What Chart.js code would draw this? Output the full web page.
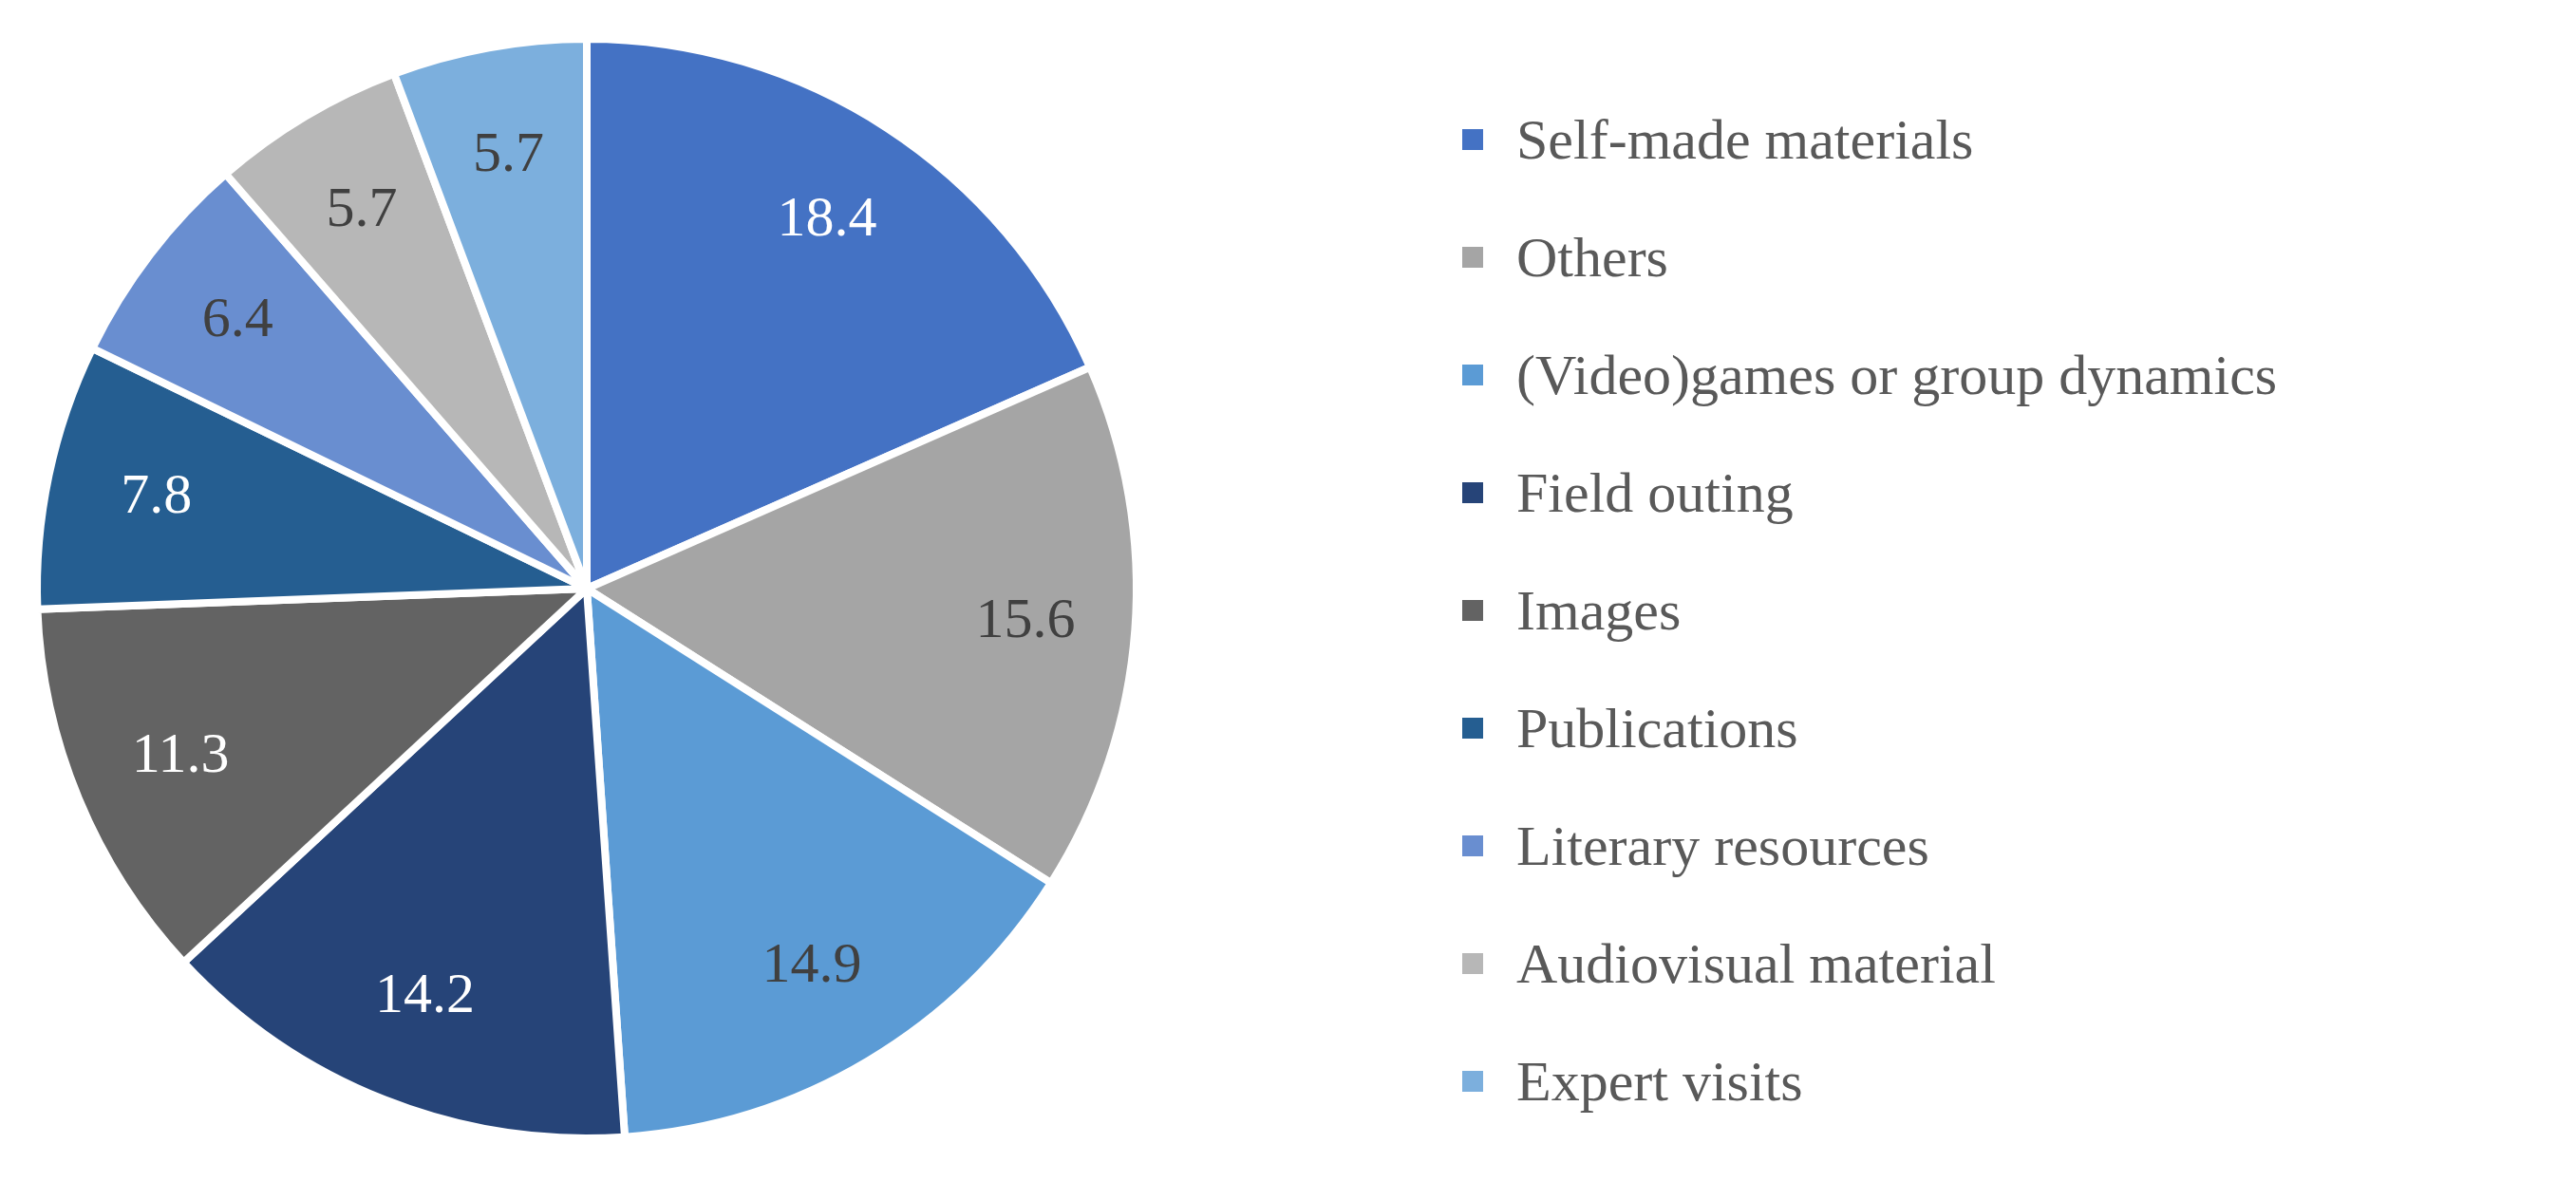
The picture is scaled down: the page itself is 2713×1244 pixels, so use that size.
<!DOCTYPE html>
<html><head><meta charset="utf-8">
<script src="https://cdn.jsdelivr.net/npm/chart.js@4"></script>
<style>
body{margin:0;background:#fff;width:2713px;height:1244px;position:relative;overflow:hidden}
#wrap{position:absolute;left:0;top:0;width:1236px;height:1240px}
#legend{position:absolute;left:1540px;top:85px;font-family:"Liberation Serif",serif;font-size:60px;color:#595959}
.row{height:124px;display:flex;align-items:center}
.box{width:22px;height:22px;margin-right:35px}
</style></head><body>
<div id="wrap"><canvas id="chart"></canvas></div>
<div id="legend"></div>
<script>
const labels = ["Self-made materials","Others","(Video)games or group dynamics","Field outing","Images","Publications","Literary resources","Audiovisual material","Expert visits"];
const values = [18.4,15.6,14.9,14.2,11.3,7.8,6.4,5.7,5.7];
const colors = ["#4472C4","#A5A5A5","#5B9BD5","#264478","#636363","#255E91","#698ED0","#B7B7B7","#7CAFDD"];
const labelColors = ["#fff","#404040","#404040","#fff","#fff","#fff","#404040","#404040","#404040"];

const legend = document.getElementById("legend");
labels.forEach((l, i) => {
    const row = document.createElement("div");
    row.className = "row";
    row.innerHTML = `<span class="box" style="background:${colors[i]}"></span><span>${l}</span>`;
    legend.appendChild(row);
});

const valueLabels = {
    id: "valueLabels",
    afterDatasetsDraw(chart) {
        const ctx = chart.ctx;
        const meta = chart.getDatasetMeta(0);
        ctx.save();
        ctx.font = "60px 'Liberation Serif', serif";
        ctx.textAlign = "center";
        ctx.textBaseline = "middle";
        meta.data.forEach((arc, i) => {
            const mid = (arc.startAngle + arc.endAngle) / 2;
            const r = arc.outerRadius * 0.8;
            ctx.fillStyle = labelColors[i];
            ctx.fillText(values[i].toFixed(1), arc.x + Math.cos(mid) * r, arc.y + Math.sin(mid) * r);
        });
        ctx.restore();
    }
};

new Chart(document.getElementById("chart").getContext("2d"), {
    type: "pie",
    data: {
        labels: labels,
        datasets: [{ data: values, backgroundColor: colors, borderColor: "#fff", borderWidth: 8 }]
    },
    options: {
        responsive: true,
        maintainAspectRatio: false,
        animation: false,
        layout: { padding: 35 },
        plugins: { legend: { display: false }, tooltip: { enabled: false } }
    },
    plugins: [valueLabels]
});
</script>
</body></html>
